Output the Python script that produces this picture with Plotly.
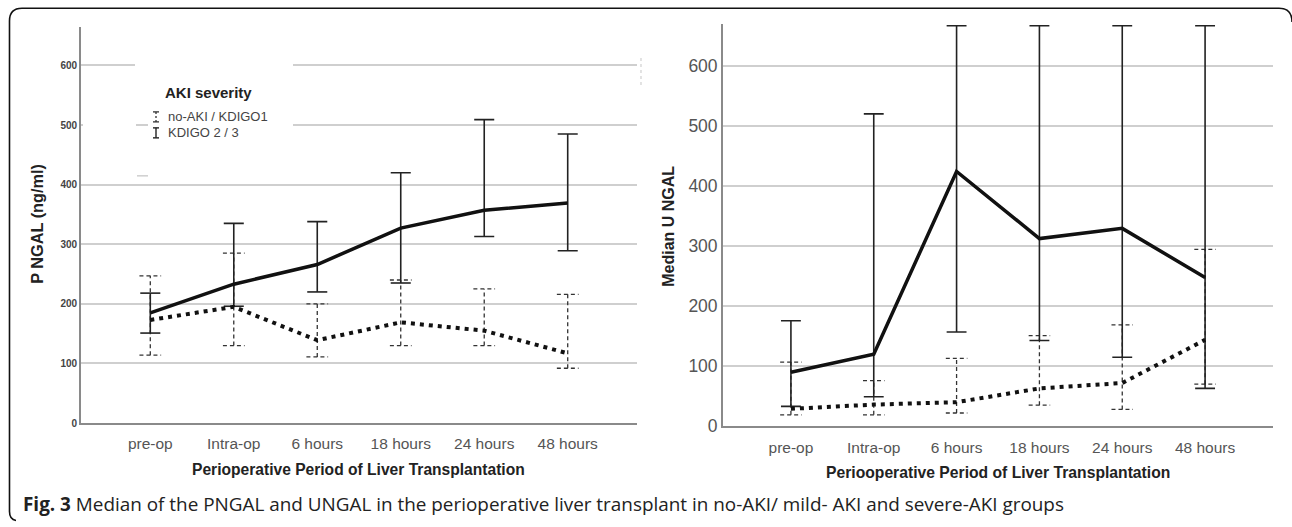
import plotly.graph_objects as go

W, H = 1292, 527

categories = ["pre-op", "Intra-op", "6 hours", "18 hours", "24 hours", "48 hours"]

# Left panel: P NGAL (ng/ml)
p_severe = [185, 233, 266, 327, 357, 369]
p_severe_lo = [151, 196, 220, 235, 313, 289]
p_severe_hi = [218, 335, 338, 420, 509, 485]
p_mild = [173, 195, 139, 169, 155, 117]
p_mild_lo = [114, 130, 111, 130, 130, 92]
p_mild_hi = [247, 285, 200, 240, 225, 216]

# Right panel: Median U NGAL
u_severe = [89, 119, 424, 312, 329, 247]
u_severe_lo = [32, 48, 156, 142, 114, 62]
u_severe_hi = [175, 520, 667, 667, 667, 667]
u_mild = [28, 35, 39, 62, 71, 143]
u_mild_lo = [18, 18, 21, 34, 27, 69]
u_mild_hi = [106, 75, 112, 150, 168, 294]

y_ticks = [0, 100, 200, 300, 400, 500, 600]

YS = 1 / 0.982  # vertical layout scale

def px(x):
    return x / W

def py(y):
    return 1 - (y * YS) / H

fig = go.Figure()

def err_trace(xa, ya, lo, hi, dash, color, width, capw):
    xs, ys = [], []
    for i, (l, h) in enumerate(zip(lo, hi)):
        xs += [i, i, None, i - capw, i + capw, None, i - capw, i + capw, None]
        ys += [l, h, None, h, h, None, l, l, None]
    fig.add_trace(go.Scatter(x=xs, y=ys, mode="lines", xaxis=xa, yaxis=ya,
                             line=dict(color=color, width=width, dash=dash),
                             hoverinfo="skip", showlegend=False))

xs_idx = list(range(len(categories)))

for xa, ya, sev, slo, shi, mil, mlo, mhi in [
    ("x", "y", p_severe, p_severe_lo, p_severe_hi, p_mild, p_mild_lo, p_mild_hi),
    ("x2", "y2", u_severe, u_severe_lo, u_severe_hi, u_mild, u_mild_lo, u_mild_hi),
]:
    err_trace(xa, ya, mlo, mhi, "4px,3px", "#333", 1.3, 0.13)
    err_trace(xa, ya, slo, shi, "solid", "#222", 1.6, 0.12)
    fig.add_trace(go.Scatter(x=xs_idx, y=mil, mode="lines", xaxis=xa, yaxis=ya,
                             line=dict(color="#111", width=4, dash="4px,5px"),
                             name="no-AKI / KDIGO1", showlegend=False))
    fig.add_trace(go.Scatter(x=xs_idx, y=sev, mode="lines", xaxis=xa, yaxis=ya,
                             line=dict(color="#111", width=3.5),
                             name="KDIGO 2 / 3", showlegend=False))

tickfont_x = dict(family="Liberation Sans, Arial", size=15.5, color="#555")

l_bot, l_k, l_max = 423.5, 0.5967, 665
r_bot, r_k, r_max = 426.0, 0.6, 670

axis_common = dict(showline=True, linecolor="#8a8a8a", linewidth=1.8, ticks="",
                   zeroline=False, fixedrange=True)

fig.update_layout(
    width=W, height=H, margin=dict(l=0, r=0, t=0, b=0),
    paper_bgcolor="white", plot_bgcolor="white",
    showlegend=False,
    xaxis=dict(domain=[px(81), px(637)], range=[-0.83, 5.83], tickvals=xs_idx,
               ticktext=categories, showgrid=False, tickfont=tickfont_x, anchor="y",
               ticklabelstandoff=5, **axis_common),
    yaxis=dict(domain=[py(l_bot), py(l_bot - l_max * l_k)], range=[0, l_max],
               tickvals=y_ticks, ticktext=[f"<b>{v}</b>" for v in y_ticks],
               showgrid=True, gridcolor="#cfcfcf", gridwidth=1.5,
               tickfont=dict(family="Liberation Sans, Arial", size=10, color="#444"),
               anchor="x", **axis_common),
    xaxis2=dict(domain=[px(723), px(1273)], range=[-0.82, 5.82], tickvals=xs_idx,
                ticktext=categories, showgrid=False, tickfont=tickfont_x, anchor="y2",
                ticklabelstandoff=7, **axis_common),
    yaxis2=dict(domain=[py(r_bot), py(r_bot - r_max * r_k)], range=[0, r_max],
                tickvals=y_ticks, showgrid=True, gridcolor="#cfcfcf", gridwidth=1.5,
                tickfont=dict(family="Liberation Sans, Arial", size=17.5, color="#555"),
                anchor="x2", **axis_common),
)

ann = []
ann.append(dict(text="<b>P NGAL (ng/ml)</b>", x=px(37), y=py(224), textangle=-90,
                font=dict(family="Liberation Sans, Arial", size=16.3, color="#222")))
ann.append(dict(text="<b>Median U NGAL</b>", x=px(669), y=py(227), textangle=-90,
                font=dict(family="Liberation Sans, Arial", size=16, color="#222")))
ann.append(dict(text="<b>Perioperative Period of Liver Transplantation</b>",
                x=px(358), y=py(470),
                font=dict(family="Liberation Sans, Arial", size=15.6, color="#222")))
ann.append(dict(text="<b>Periooperative Period of Liver Transplantation</b>",
                x=px(998), y=py(473),
                font=dict(family="Liberation Sans, Arial", size=15.7, color="#222")))
ann.append(dict(text="<b>AKI severity</b>", x=px(163), y=py(93), xanchor="left",
                font=dict(family="Liberation Sans, Arial", size=15, color="#222")))
leg_font = dict(family="Liberation Sans, Arial", size=13, color="#444")
ann.append(dict(text="no-AKI / KDIGO1", x=px(166), y=py(117), xanchor="left", font=leg_font))
ann.append(dict(text="KDIGO 2 / 3", x=px(166), y=py(133), xanchor="left", font=leg_font))
ann.append(dict(text="<b>Fig. 3</b> Median of the PNGAL and UNGAL in the perioperative liver transplant in no-AKI/ mild- AKI and severe-AKI groups",
                x=px(21), y=py(505), xanchor="left",
                font=dict(family="Open Sans, Noto Sans, Arial", size=18.9, color="#222")))
for a in ann:
    a.update(xref="paper", yref="paper", showarrow=False)
    a.setdefault("xanchor", "center")
    a["yanchor"] = "middle"
fig.update_layout(annotations=ann)

shapes = []
def rect(x0, y0, x1, y1):
    shapes.append(dict(type="rect", xref="paper", yref="paper", x0=px(x0), x1=px(x1),
                       y0=py(y1), y1=py(y0), fillcolor="white", line=dict(width=0),
                       layer="above"))
rect(148, 58, 293, 180)
rect(135, 58, 148, 72)
rect(83, 119, 136, 131)

def seg(x0, y0, x1, y1, color, width, dash="solid"):
    shapes.append(dict(type="line", xref="paper", yref="paper", x0=px(x0), x1=px(x1),
                       y0=py(y0), y1=py(y1), line=dict(color=color, width=width, dash=dash),
                       layer="above"))
seg(137, 176, 148, 176, "#cfcfcf", 1.5)
seg(641, 58, 641, 88, "#d0d0d0", 1.2, "dot")
seg(156, 112, 156, 122, "#333", 1.3, "2px,2px")
seg(153, 112, 159, 112, "#333", 1.3)
seg(153, 122, 159, 122, "#333", 1.3)
seg(156, 128, 156, 138, "#222", 1.4)
seg(153, 128, 159, 128, "#222", 1.4)
seg(153, 138, 159, 138, "#222", 1.4)

fx = lambda v: f"{px(v):.5f}"
fy = lambda v: f"{py(v):.5f}"
path = (f"M {fx(1292)},{fy(22)} Q {fx(1292)},{fy(8.3)} {fx(1279)},{fy(8.3)} "
        f"L {fx(22)},{fy(8.3)} Q {fx(9.5)},{fy(8.3)} {fx(9.5)},{fy(21)} "
        f"L {fx(9.5)},{fy(512)} Q {fx(9.5)},{fy(520)} {fx(16)},{fy(521)}")
shapes.append(dict(type="path", xref="paper", yref="paper", path=path,
                   line=dict(color="#111", width=1.6), layer="above"))
fig.update_layout(shapes=shapes)

fig.write_html("out.html", config={"displayModeBar": False},
               post_script="document.body.style.margin='0';document.body.style.overflow='hidden';")
